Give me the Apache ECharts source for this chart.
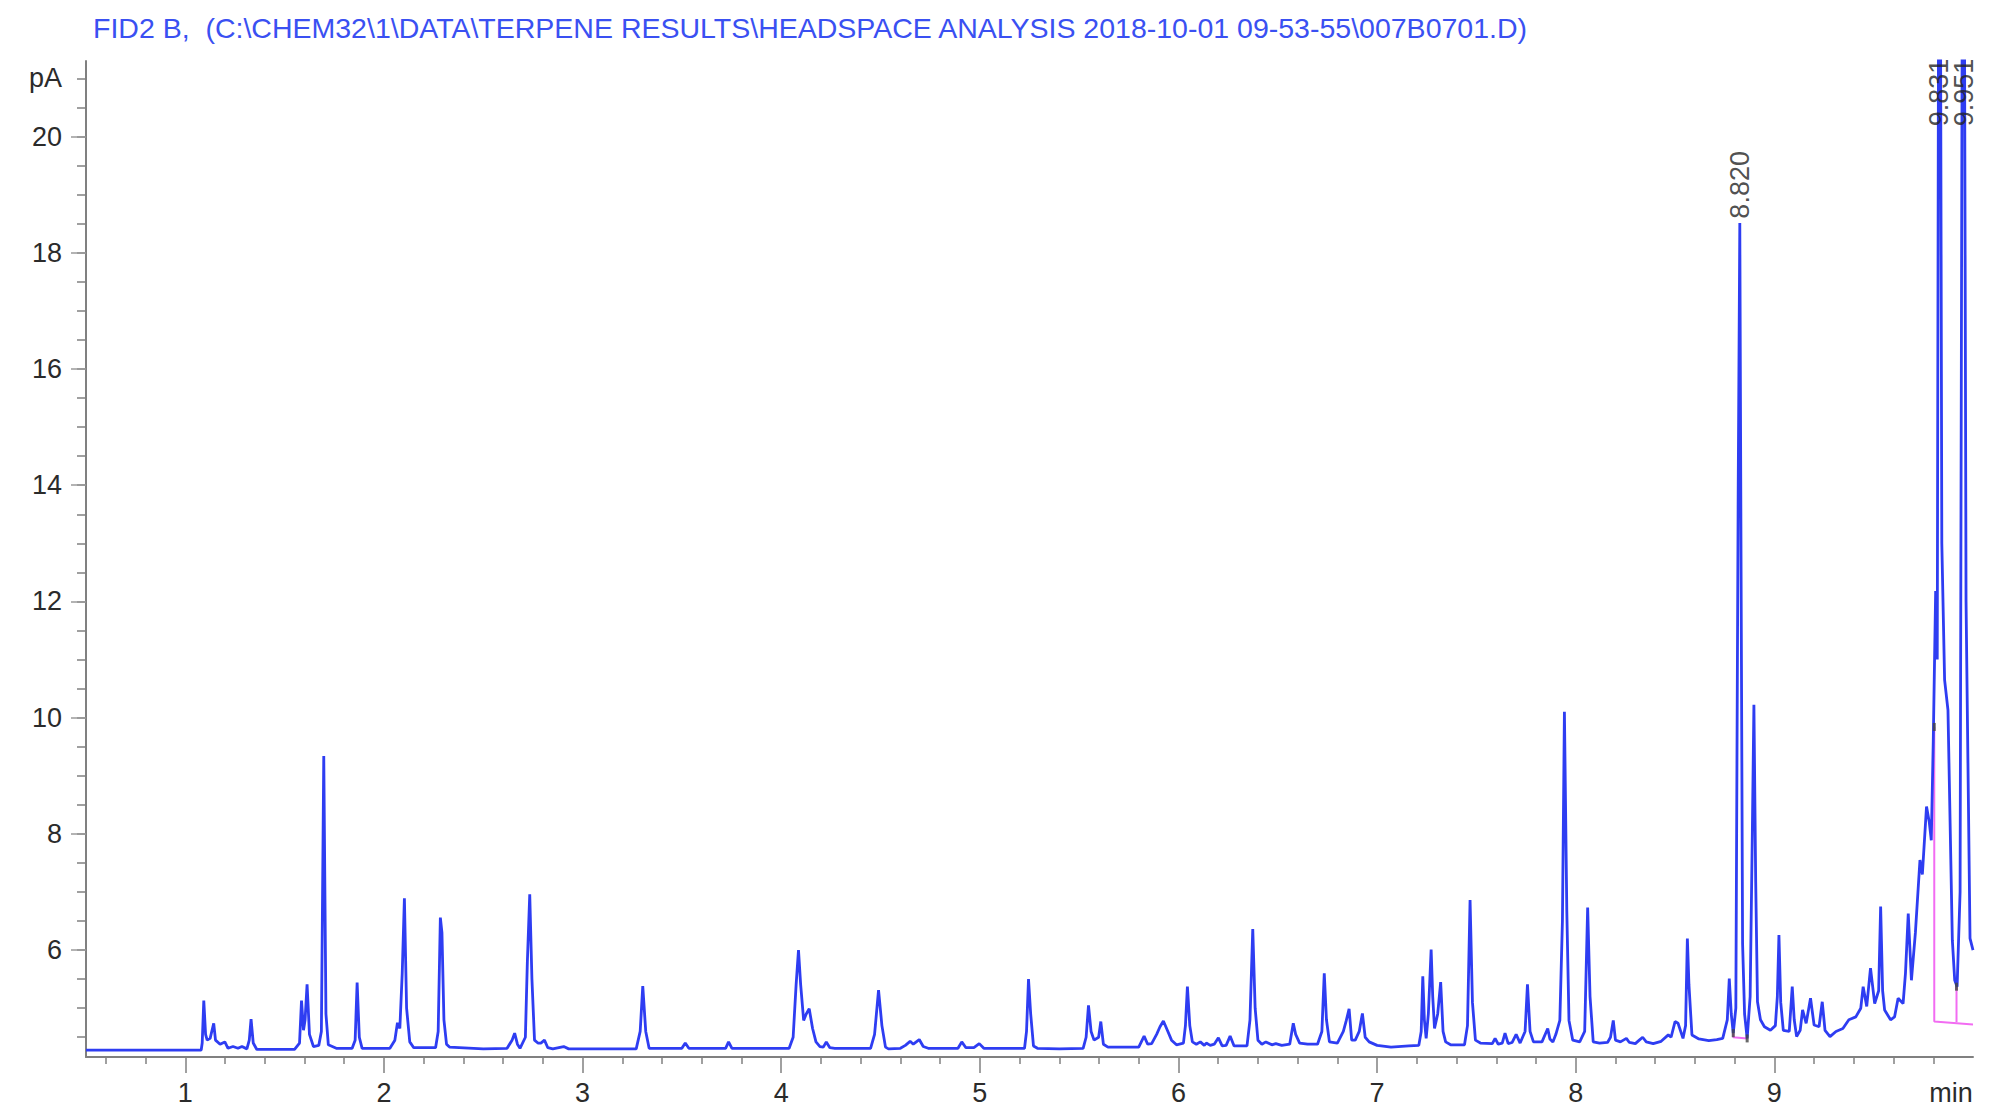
<!DOCTYPE html>
<html lang="en">
<head>
    <meta charset="UTF-8">
    <title>FID2 B</title>
    <script type="text/javascript" src="https://cdn.jsdelivr.net/npm/echarts@6/dist/echarts.min.js"></script>
    <style>
        html, body { margin: 0; padding: 0; background: #fff; }
        #chart { width: 2002px; height: 1106px; }
    </style>
</head>
<body>
<div id="chart"></div>
<script>
    // retention time (min), signal (pA)
    var trace1 = [[0.50, 4.28], [1.08, 4.28], [1.085, 4.40], [1.093, 5.13], [1.102, 4.55], [1.11, 4.45], [1.125, 4.48], [1.143, 4.74],
        [1.152, 4.45], [1.175, 4.38], [1.199, 4.42], [1.215, 4.31], [1.24, 4.34], [1.265, 4.31], [1.285, 4.34], [1.31, 4.30],
        [1.322, 4.45], [1.331, 4.81], [1.342, 4.40], [1.36, 4.29], [1.55, 4.29], [1.575, 4.40], [1.585, 5.13], [1.595, 4.62],
        [1.603, 4.80], [1.613, 5.41], [1.625, 4.55], [1.645, 4.34], [1.672, 4.36], [1.685, 4.60], [1.697, 9.34], [1.708, 4.90],
        [1.72, 4.37], [1.76, 4.31], [1.84, 4.31], [1.855, 4.45], [1.865, 5.44], [1.876, 4.50], [1.89, 4.31]]
    var trace2 = [[2.03, 4.31], [2.055, 4.45], [2.068, 4.75], [2.08, 4.65], [2.092, 5.6], [2.103, 6.89], [2.114, 5.0], [2.13, 4.42],
        [2.15, 4.32], [2.26, 4.32], [2.273, 4.6], [2.284, 6.56], [2.292, 6.30], [2.302, 4.8], [2.315, 4.38], [2.33, 4.33],
        [2.50, 4.30], [2.62, 4.31], [2.645, 4.45], [2.658, 4.57], [2.672, 4.38], [2.685, 4.31], [2.712, 4.5], [2.722, 5.8],
        [2.734, 6.96], [2.745, 5.5], [2.758, 4.45], [2.775, 4.40], [2.79, 4.40], [2.808, 4.45], [2.825, 4.32], [2.85, 4.30],
        [2.905, 4.34], [2.93, 4.30], [3.27, 4.30], [3.29, 4.6], [3.303, 5.38], [3.318, 4.6], [3.335, 4.31], [3.50, 4.31],
        [3.517, 4.40], [3.535, 4.31], [3.72, 4.31], [3.735, 4.42], [3.752, 4.31]]
    var trace3 = [[4.04, 4.31], [4.06, 4.5], [4.075, 5.4], [4.087, 6.0], [4.098, 5.4], [4.113, 4.79], [4.126, 4.90], [4.141, 4.99],
        [4.158, 4.65], [4.175, 4.42], [4.195, 4.34], [4.212, 4.33], [4.227, 4.42], [4.245, 4.32], [4.27, 4.31], [4.45, 4.31],
        [4.47, 4.55], [4.49, 5.31], [4.507, 4.7], [4.525, 4.33], [4.54, 4.30], [4.60, 4.31], [4.625, 4.36], [4.649, 4.43],
        [4.665, 4.38], [4.695, 4.46], [4.715, 4.34], [4.74, 4.31], [4.89, 4.31], [4.909, 4.42], [4.93, 4.32], [4.97, 4.32],
        [4.997, 4.39], [5.02, 4.31], [5.225, 4.31], [5.235, 4.6], [5.245, 5.50], [5.256, 4.9], [5.27, 4.35], [5.29, 4.31],
        [5.40, 4.30], [5.52, 4.31], [5.535, 4.5], [5.547, 5.05], [5.56, 4.6], [5.575, 4.45], [5.598, 4.5], [5.609, 4.77],
        [5.622, 4.38], [5.645, 4.33], [5.80, 4.33], [5.827, 4.52], [5.845, 4.38], [5.865, 4.39], [5.89, 4.55], [5.907, 4.68],
        [5.924, 4.78], [5.944, 4.62], [5.965, 4.45], [5.99, 4.37]]
    var trace4 = [[6.025, 4.40], [6.035, 4.7], [6.045, 5.37], [6.057, 4.7], [6.07, 4.42], [6.09, 4.38], [6.11, 4.42], [6.13, 4.36],
        [6.14, 4.40], [6.16, 4.36], [6.18, 4.38], [6.201, 4.49], [6.22, 4.35], [6.24, 4.36], [6.26, 4.52], [6.28, 4.35],
        [6.345, 4.35], [6.36, 4.8], [6.374, 6.36], [6.386, 5.0], [6.40, 4.45], [6.42, 4.38], [6.44, 4.42], [6.47, 4.37],
        [6.49, 4.39], [6.52, 4.36], [6.56, 4.38], [6.578, 4.74], [6.59, 4.55], [6.61, 4.40], [6.65, 4.38], [6.70, 4.38],
        [6.722, 4.6], [6.734, 5.60], [6.745, 4.8], [6.76, 4.42], [6.80, 4.40], [6.83, 4.6], [6.845, 4.79], [6.859, 4.99],
        [6.872, 4.45], [6.89, 4.45], [6.91, 4.6], [6.926, 4.91], [6.94, 4.5], [6.96, 4.42], [7.0, 4.36], [7.07, 4.33],
        [7.16, 4.35], [7.21, 4.36], [7.222, 4.6], [7.230, 5.55], [7.238, 4.8], [7.247, 4.48], [7.258, 4.9], [7.272, 6.01],
        [7.28, 5.2], [7.289, 4.65], [7.305, 4.9], [7.320, 5.45], [7.332, 4.6], [7.345, 4.42], [7.37, 4.37], [7.44, 4.37],
        [7.455, 4.7], [7.468, 6.86], [7.48, 5.1], [7.495, 4.45], [7.52, 4.40], [7.58, 4.39], [7.594, 4.48], [7.61, 4.38],
        [7.63, 4.40], [7.644, 4.57], [7.66, 4.39], [7.68, 4.41], [7.70, 4.55], [7.72, 4.40], [7.745, 4.6], [7.757, 5.41],
        [7.77, 4.6], [7.787, 4.42], [7.83, 4.42], [7.859, 4.65], [7.87, 4.47], [7.885, 4.42], [7.9, 4.55], [7.920, 4.79],
        [7.933, 6.5], [7.943, 10.10], [7.955, 6.68], [7.966, 4.79], [7.985, 4.45]]
    var trace5 = [[8.02, 4.42], [8.045, 4.6], [8.060, 6.73], [8.072, 5.2], [8.088, 4.42], [8.12, 4.40], [8.16, 4.41], [8.175, 4.5],
        [8.189, 4.79], [8.20, 4.45], [8.225, 4.42], [8.255, 4.48], [8.27, 4.41], [8.30, 4.39], [8.32, 4.45], [8.337, 4.50],
        [8.355, 4.42], [8.39, 4.39], [8.43, 4.43], [8.466, 4.54], [8.48, 4.50], [8.50, 4.77], [8.515, 4.74], [8.54, 4.48],
        [8.553, 4.7], [8.562, 6.20], [8.57, 5.4], [8.585, 4.54], [8.62, 4.47], [8.67, 4.44], [8.71, 4.46], [8.74, 4.48],
        [8.763, 4.8], [8.773, 5.51], [8.783, 4.9], [8.793, 4.57], [8.806, 5.0], [8.818, 14.0], [8.826, 18.51], [8.833, 12.0],
        [8.840, 6.11], [8.85, 4.9], [8.863, 4.48], [8.878, 5.2], [8.889, 8.0], [8.897, 10.22], [8.906, 7.18], [8.915, 5.11],
        [8.93, 4.80], [8.95, 4.68], [8.98, 4.62]]
    var trace6 = [[9.005, 4.70], [9.015, 5.2], [9.023, 6.26], [9.032, 5.1], [9.045, 4.62], [9.075, 4.60], [9.090, 5.37], [9.1, 4.8],
        [9.112, 4.51], [9.13, 4.62], [9.142, 4.97], [9.16, 4.74], [9.182, 5.17], [9.2, 4.71], [9.225, 4.68], [9.241, 5.11],
        [9.255, 4.62], [9.28, 4.51], [9.31, 4.60], [9.345, 4.65], [9.375, 4.80], [9.41, 4.85], [9.435, 5.0], [9.447, 5.37],
        [9.465, 5.03], [9.484, 5.69], [9.505, 5.08], [9.525, 5.3], [9.535, 6.75], [9.545, 5.3], [9.555, 4.97], [9.585, 4.80],
        [9.605, 4.85], [9.623, 5.17], [9.648, 5.08], [9.66, 5.6], [9.674, 6.63], [9.69, 5.48], [9.71, 6.3], [9.733, 7.55],
        [9.745, 7.3], [9.766, 8.47], [9.78, 8.2], [9.79, 7.89], [9.80, 9.6], [9.812, 12.18], [9.82, 11.0], [9.831, 30],
        [9.843, 13.0], [9.857, 10.65], [9.874, 10.13], [9.896, 6.17], [9.908, 5.48], [9.92, 5.37], [9.935, 7.0], [9.951, 30],
        [9.965, 12.0], [9.985, 6.2], [10.0, 6.0]]

    // integration baselines (pink) and their start/stop ticks
    var baselineA = [[9.805, 9.84], [9.805, 4.77], [10.0, 4.72]]
    var baselineB = [[9.917, 5.37], [9.917, 4.76]]
    var baselineC = [[8.793, 4.57], [8.793, 4.50], [8.863, 4.48]]
    var eventMarks = [[8.793, 4.57], [8.863, 4.48], [9.805, 9.84], [9.917, 5.37]]

    // annotated retention times
    var peakNames = ['8.820', '9.831', '9.951']
    var peakTimes = [8.826, 9.831, 9.953]
    var peakTops = [18.51, 20.1, 20.1]

    var xLabels = [1, 2, 3, 4, 5, 6, 7, 8, 9, 10]
    var xMinorTicks = [0.6, 0.8, 1.2, 1.4, 1.6, 1.8, 2.2, 2.4, 2.6, 2.8, 3.2, 3.4, 3.6, 3.8, 4.2, 4.4, 4.6, 4.8,
        5.2, 5.4, 5.6, 5.8, 6.2, 6.4, 6.6, 6.8, 7.2, 7.4, 7.6, 7.8, 8.2, 8.4, 8.6, 8.8, 9.2, 9.4, 9.6, 9.8]
    var xMajorTicks = [1, 2, 3, 4, 5, 6, 7, 8, 9]
    var yLabels = [6, 8, 10, 12, 14, 16, 18, 20, 21]
    var yMajorTicks = [6, 8, 10, 12, 14, 16, 18, 20]
    var yMinorTicks = [4.5, 5, 5.5, 6, 6.5, 7, 7.5, 8, 8.5, 9, 9.5, 10, 10.5, 11, 11.5, 12, 12.5, 13, 13.5,
        14, 14.5, 15, 15.5, 16, 16.5, 17, 17.5, 18, 18.5, 19, 19.5, 20, 20.5, 21]

    var signal = trace1.concat(trace2, trace3, trace4, trace5, trace6)

    var axisGray = '#808080'
    var labelFont = 'Liberation Sans, Arial, sans-serif'

    var chart = echarts.init(document.getElementById('chart'), null, {renderer: 'svg'})
    chart.setOption({
        animation: false,
        backgroundColor: '#fff',
        title: {
            text: 'FID2 B,  (C:\\CHEM32\\1\\DATA\\TERPENE RESULTS\\HEADSPACE ANALYSIS 2018-10-01 09-53-55\\007B0701.D)',
            left: 88,
            top: 8,
            textStyle: {color: '#3a50f2', fontSize: 28.5, fontWeight: 'normal', fontFamily: labelFont}
        },
        grid: {left: 86, right: 29, top: 61, bottom: 49, containLabel: false},
        xAxis: [{
            type: 'value', min: 0.5, max: 10,
            axisLine: {show: true, lineStyle: {color: axisGray, width: 2}},
            axisTick: {show: true, customValues: xMinorTicks, length: 7, lineStyle: {color: axisGray, width: 1.5}},
            axisLabel: {show: false},
            splitLine: {show: false}
        }, {
            type: 'value', min: 0.5, max: 10, position: 'bottom',
            axisLine: {show: false},
            axisTick: {show: true, customValues: xMajorTicks, length: 16, lineStyle: {color: axisGray, width: 1.5}},
            axisLabel: {
                show: true, customValues: xLabels, margin: 22,
                fontSize: 27, color: '#2b2b2b', fontFamily: labelFont,
                formatter: function (v) { return v === 10 ? '{m|min}' : String(v) },
                rich: {m: {fontSize: 27, color: '#2b2b2b', fontFamily: labelFont, padding: [0, 44, 0, 0]}}
            },
            splitLine: {show: false}
        }],
        yAxis: [{
            type: 'value', min: 4.16, max: 21.3,
            axisLine: {show: true, lineStyle: {color: axisGray, width: 2}},
            axisTick: {show: true, customValues: yMinorTicks, length: 9, lineStyle: {color: axisGray, width: 1.5}},
            axisLabel: {show: false},
            splitLine: {show: false}
        }, {
            type: 'value', min: 4.16, max: 21.3, position: 'left',
            axisLine: {show: false},
            axisTick: {show: true, customValues: yMajorTicks, length: 15, lineStyle: {color: '#9a9a9a', width: 1.5}},
            axisLabel: {
                show: true, customValues: yLabels, margin: 24,
                fontSize: 27, color: '#2b2b2b', fontFamily: labelFont,
                formatter: function (v) { return v === 21 ? 'pA' : String(v) }
            },
            splitLine: {show: false}
        }],
        series: [{
            name: 'FID2 B', type: 'line', data: signal,
            xAxisIndex: 0, yAxisIndex: 0,
            showSymbol: false, clip: true,
            lineStyle: {color: '#2e3df2', width: 2.8},
            z: 3
        }, {
            type: 'line', data: baselineA, showSymbol: false, clip: true,
            lineStyle: {color: '#f26cf2', width: 2}, z: 2
        }, {
            type: 'line', data: baselineB, showSymbol: false, clip: true,
            lineStyle: {color: '#f26cf2', width: 2}, z: 2
        }, {
            type: 'line', data: baselineC, showSymbol: false, clip: true,
            lineStyle: {color: '#f26cf2', width: 2}, z: 2
        }, {
            type: 'scatter', data: eventMarks, symbol: 'rect', symbolSize: [3, 8],
            itemStyle: {color: '#444'}, z: 4
        }, {
            type: 'scatter',
            data: peakNames.map(function (n, i) { return {name: n, value: [peakTimes[i], peakTops[i]]} }),
            symbolSize: 1,
            itemStyle: {color: 'transparent'},
            label: {
                show: true, formatter: '{b}', position: 'top', distance: 4,
                rotate: 90, align: 'left', verticalAlign: 'middle',
                fontSize: 27, color: '#222', fontFamily: labelFont
            },
            z: 5
        }]
    })
</script>
</body>
</html>
